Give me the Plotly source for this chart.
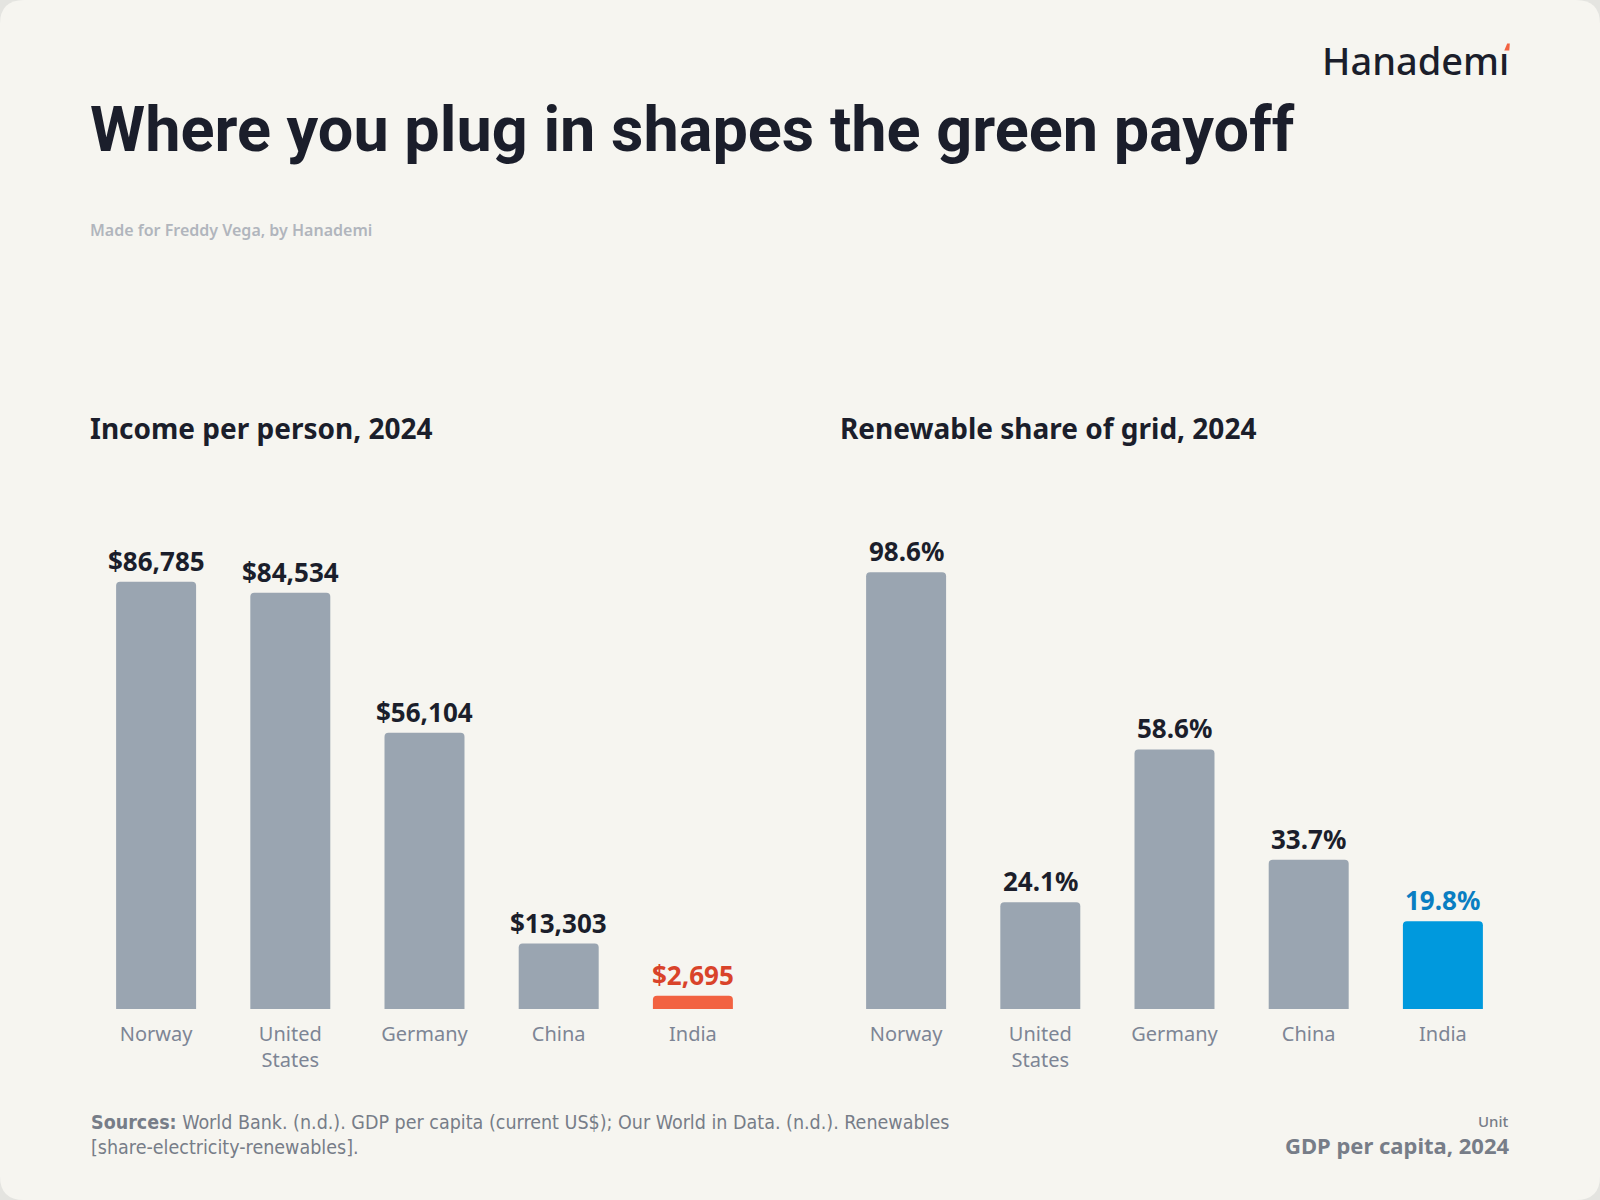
import plotly.graph_objects as go

# ---------------- data ----------------
countries = ["Norway", "United States", "Germany", "China", "India"]
country_ticks = ["Norway", "United<br>States", "Germany", "China", "India"]
gdp_per_capita = [86785, 84534, 56104, 13303, 2695]
gdp_labels = ["$86,785", "$84,534", "$56,104", "$13,303", "$2,695"]
renew_share = [98.6, 24.1, 58.6, 33.7, 19.8]
renew_labels = ["98.6%", "24.1%", "58.6%", "33.7%", "19.8%"]

title = "Where you plug in shapes the green payoff"
subtitle = "Made for Freddy Vega, by Hanademi"
left_title = "Income per person, 2024"
right_title = "Renewable share of grid, 2024"

# ---------------- styles ----------------
W, H = 1600, 1200
FONT = "Noto Sans"
GREY = "#9aa5b1"
RED_BAR = "#f26241"
RED_TXT = "#d9432a"
BLUE_BAR = "#0099dd"
BLUE_TXT = "#0a7ec2"
INK = "#1b1e2b"
MUTED = "#7d8595"
CARD = "#f6f5f0"
OUTER = "#e4e4e0"


def X(px):
    return px / W


def Y(py):
    return 1 - py / H


left_colors = [GREY, GREY, GREY, GREY, RED_BAR]
left_txt = [INK, INK, INK, INK, RED_TXT]
right_colors = [GREY, GREY, GREY, GREY, BLUE_BAR]
right_txt = [INK, INK, INK, INK, BLUE_TXT]

fig = go.Figure()
fig.add_trace(go.Bar(x=countries, y=gdp_per_capita, marker_color=left_colors,
                     marker_line_width=0, xaxis="x", yaxis="y", hoverinfo="skip"))
fig.add_trace(go.Bar(x=countries, y=renew_share, marker_color=right_colors,
                     marker_line_width=0, xaxis="x2", yaxis="y2", hoverinfo="skip"))

annotations = []
for c, v, t, col in zip(countries, gdp_per_capita, gdp_labels, left_txt):
    annotations.append(dict(x=c, y=v, xref="x", yref="y", text=t, showarrow=False,
                            yanchor="bottom", yshift=1,
                            font=dict(family=FONT, size=26, color=col, weight=700)))
for c, v, t, col in zip(countries, renew_share, renew_labels, right_txt):
    annotations.append(dict(x=c, y=v, xref="x2", yref="y2", text=t, showarrow=False,
                            yanchor="bottom", yshift=1,
                            font=dict(family=FONT, size=26, color=col, weight=700)))


def txt(text, x, y, size, color, weight=400, xanchor="left", yanchor="middle",
        family=FONT, align="left"):
    annotations.append(dict(text=text, x=X(x), y=Y(y), xref="paper", yref="paper",
                            xanchor=xanchor, yanchor=yanchor, showarrow=False, align=align,
                            font=dict(family=family, size=size, color=color, weight=weight)))


txt("Hanademı", 1511, 60, 38, INK, weight=500, xanchor="right")
txt(title, 88, 129, 63, INK, weight=700, family="Roboto")
txt(subtitle, 88, 230, 16, "#b1b5bd", weight=600)
txt(left_title, 88, 428, 28, INK, weight=700)
txt(right_title, 838, 428, 28, INK, weight=700)
txt("<b>Sources:</b> World Bank. (n.d.). GDP per capita (current US$); Our World in Data. (n.d.). Renewables<br>[share-electricity-renewables].",
    89, 1109, 19.5, "#777d88", yanchor="top", family="DejaVu Sans Condensed")
txt("Unit", 1511, 1121, 15, "#777d88", weight=500, xanchor="right")
txt("GDP per capita, 2024", 1511, 1145, 22, "#777d88", weight=700, xanchor="right")

# rounded card
r = 24
card_path = (f"M {X(r)},{Y(0)} L {X(W - r)},{Y(0)} Q {X(W)},{Y(0)} {X(W)},{Y(r)} "
             f"L {X(W)},{Y(H - r)} Q {X(W)},{Y(H)} {X(W - r)},{Y(H)} "
             f"L {X(r)},{Y(H)} Q {X(0)},{Y(H)} {X(0)},{Y(H - r)} "
             f"L {X(0)},{Y(r)} Q {X(0)},{Y(0)} {X(r)},{Y(0)} Z")
accent_path = f"M {X(1504.3)},{Y(50.5)} L {X(1507.2)},{Y(43.5)} L {X(1509.8)},{Y(43.5)} L {X(1509.3)},{Y(50.5)} Z"
shapes = [
    dict(type="path", path=card_path, xref="paper", yref="paper",
         fillcolor=CARD, line=dict(width=0), layer="below"),
    dict(type="path", path=accent_path, xref="paper", yref="paper",
         fillcolor="#f26241", line=dict(width=0), layer="above"),
]

axis_x = dict(showgrid=False, zeroline=False, showline=False, ticks="",
              tickfont=dict(family=FONT, size=20, color=MUTED),
              tickvals=countries, ticktext=country_ticks, ticklabelstandoff=11,
              fixedrange=True)

fig.update_layout(
    width=W, height=H,
    margin=dict(l=0, r=0, t=0, b=0),
    paper_bgcolor=OUTER, plot_bgcolor="rgba(0,0,0,0)",
    showlegend=False, bargap=0.404, barcornerradius=4,
    xaxis=dict(domain=[X(89), X(760)], **axis_x),
    xaxis2=dict(domain=[X(839), X(1510)], anchor="y2", **axis_x),
    yaxis=dict(domain=[Y(1009), Y(509)], range=[0, 101550], visible=False, fixedrange=True),
    yaxis2=dict(domain=[Y(1009), Y(509)], range=[0, 112.9], visible=False, anchor="x2", fixedrange=True),
    annotations=annotations, shapes=shapes,
    font=dict(family=FONT),
)

fig.write_html("out.html")
